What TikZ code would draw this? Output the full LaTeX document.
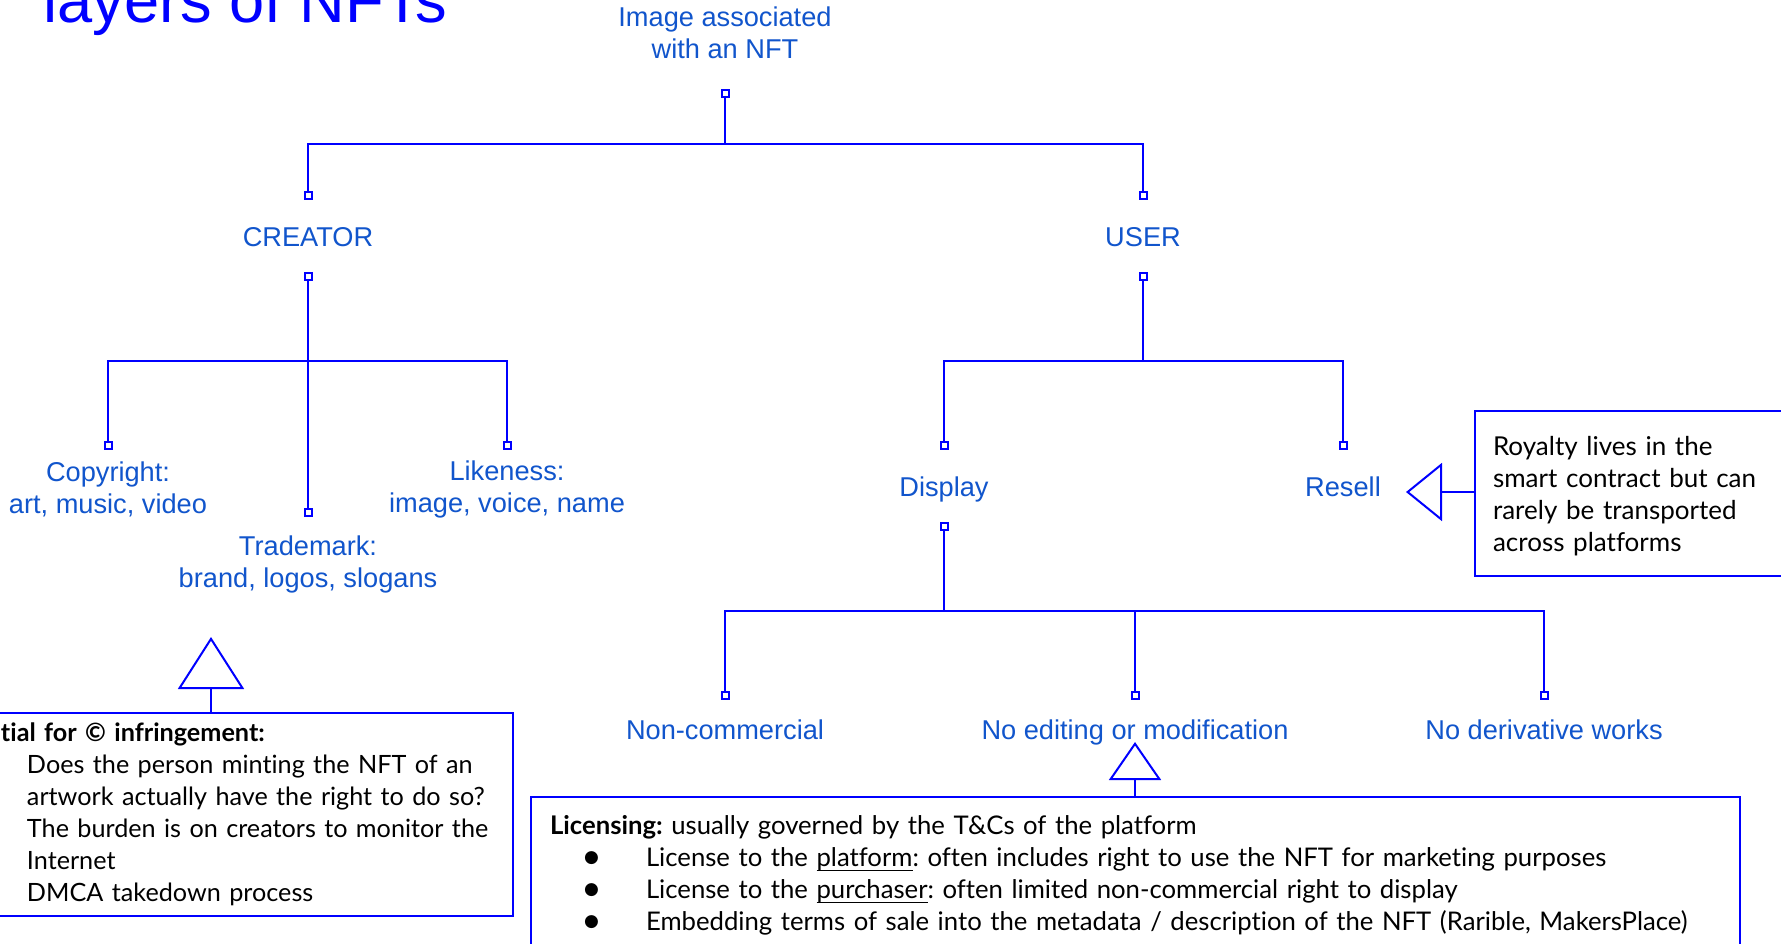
\documentclass[tikz,border=0pt]{standalone}
\usepackage{fontspec}
\setmainfont{Lato}[Ligatures={NoCommon,NoContextual}]
\newfontfamily\labelfont{Liberation Sans}
\newfontfamily\symfont{DejaVu Sans}
\usetikzlibrary{arrows.meta,calc}
\definecolor{lineblue}{HTML}{0000FF}
\definecolor{labelblue}{HTML}{1155CC}
\newcommand{\dotmark}{\raisebox{1.8pt}{\symfont\fontsize{8.5pt}{8.5pt}\selectfont ●}}
\newcommand{\uln}[1]{\setbox0\hbox{#1}\rlap{\rule[-2.6pt]{\wd0}{0.8pt}}\box0}
\frenchspacing

\begin{document}
\begin{tikzpicture}[x=0.5pt, y=-0.5pt,
heading/.style={text=lineblue, font=\labelfont\fontsize{31.6pt}{31.6pt}\selectfont, inner sep=0pt},
term/.style={text=labelblue, font=\labelfont\fontsize{13.6pt}{16pt}\selectfont, align=center, inner sep=0pt},
port/.style={rectangle, draw=lineblue, fill=white, line width=1pt, minimum size=3.5pt, inner sep=0pt},
link/.style={draw=lineblue, line width=1pt},
gen/.style={link, -{Triangle[open, #1]}},
note/.style={rectangle, draw=lineblue, line width=1pt, align=left, font=\fontsize{12.6pt}{16pt}\selectfont},
]
\useasboundingbox (0,0) rectangle (1781,943);
\clip (0,0) rectangle (1781,943);
\fill[white] (0,0) rectangle (1781,943);

%Title
\node[heading, anchor=base west] (title) at (43,22) {layers of NFTs};

%Nodes
\node[term] (image) at (725,33) {Image associated\\with an NFT};
\node[term, anchor=base] (creator) at (308,246) {CREATOR};
\node[term, anchor=base] (user) at (1143,246) {USER};
\node[term] (copyright) at (108,489) {Copyright:\\art, music, video};
\node[term] (trademark) at (308,564) {Trademark:\\brand, logos, slogans};
\node[term] (likeness) at (507,489) {Likeness:\\image, voice, name};
\node[term, anchor=base] (display) at (944,496) {Display};
\node[term, anchor=base] (resell) at (1343,496) {Resell};
\node[term, anchor=base] (noncomm) at (725,739) {Non-commercial};
\node[term, anchor=base] (noedit) at (1135,739) {No editing or modification};
\node[term, anchor=base] (noderiv) at (1544,739) {No derivative works};

%Ports
\node[port] (pImg) at (725,93) {};
\node[port] (pCreT) at (308,195) {};
\node[port] (pUsrT) at (1143,195) {};
\node[port] (pCreB) at (308,276) {};
\node[port] (pUsrB) at (1143,276) {};
\node[port] (pCopy) at (108,445) {};
\node[port] (pLike) at (507,445) {};
\node[port] (pTm) at (308,512) {};
\node[port] (pDisp) at (944,445) {};
\node[port] (pRes) at (1343,445) {};
\node[port] (pDispB) at (944,526) {};
\node[port] (pNonc) at (725,695) {};
\node[port] (pNoed) at (1135,695) {};
\node[port] (pNoder) at (1544,695) {};

%Notes
\node[note, anchor=north west, text width=246pt, inner xsep=10pt, minimum height=101.5pt] (infBox) at (-20,712) {\textbf{tial for © infringement:}\\
\hspace*{13pt}Does the person minting the NFT of an\\
\hspace*{13pt}artwork actually have the right to do so?\\
\hspace*{13pt}The burden is on creators to monitor the\\
\hspace*{13pt}Internet\\
\hspace*{13pt}DMCA takedown process};
\node[note, anchor=north west, text width=172pt, inner xsep=9pt, minimum height=82.5pt, font=\fontsize{13pt}{16pt}\selectfont] (royalty) at (1474,410) {\rule{0pt}{12pt}Royalty lives in the\\smart contract but can\\rarely be transported\\across platforms};
\node[note, anchor=north west, text width=585.5pt, inner xsep=9.5pt, inner ysep=9pt, font=\fontsize{12.85pt}{16pt}\selectfont] (licensing) at (530,796) {\textbf{Licensing:} usually governed by the T\&Cs of the platform\\
\hspace*{17pt}\makebox[31pt][l]{\dotmark}License to the \uln{platform}: often includes right to use the NFT for marketing purposes\\
\hspace*{17pt}\makebox[31pt][l]{\dotmark}License to the \uln{purchaser}: often limited non-commercial right to display\\
\hspace*{17pt}\makebox[31pt][l]{\dotmark}Embedding terms of sale into the metadata / description of the NFT (Rarible, MakersPlace)};

%Lines
\draw[link] (pImg) |- ($(pImg)!.5!(pCreT)$) -| (pCreT);
\draw[link] (pImg) |- ($(pImg)!.5!(pUsrT)$) -| (pUsrT);
\draw[link] (pCreB) -- (pTm);
\draw[link] (pCreB) |- ($(pCreB)!.5!(pCopy)$) -| (pCopy);
\draw[link] (pCreB) |- ($(pCreB)!.5!(pLike)$) -| (pLike);
\draw[link] (pUsrB) |- ($(pUsrB)!.5!(pDisp)$) -| (pDisp);
\draw[link] (pUsrB) |- ($(pUsrB)!.5!(pRes)$) -| (pRes);
\draw[link] (pDispB) |- ($(pDispB)!.5!(pNonc)$) -| (pNonc);
\draw[link] (pDispB) |- ($(pDispB)!.5!(pNoed)$) -| (pNoed);
\draw[link] (pDispB) |- ($(pDispB)!.5!(pNoder)$) -| (pNoder);

%Open triangles
\coordinate (tmTip) at (211,637);
\coordinate (neTip) at (1135,742);
\coordinate (rsTip) at (1406,492);
\draw[gen={length=26pt, width=33pt}] (infBox.north -| tmTip) -- (tmTip);
\draw[gen={length=19pt, width=26pt}] (licensing.north -| neTip) -- (neTip);
\draw[gen={length=18pt, width=29pt}] (royalty.west |- rsTip) -- (rsTip);
\end{tikzpicture}
\end{document}
